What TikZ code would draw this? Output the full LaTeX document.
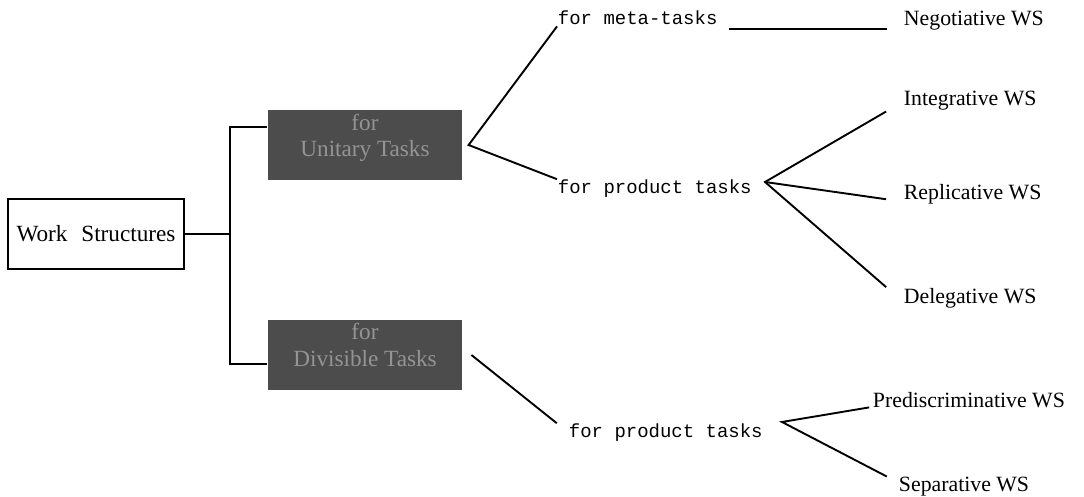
\documentclass[tikz,border=0pt]{standalone}
\usepackage{fontspec}
\setmainfont{Liberation Serif}
\setmonofont{Liberation Mono}
\begin{document}
\begin{tikzpicture}[x=0.025cm,y=-0.025cm,line width=1.35pt,
	ws/.style={font=\fontsize{15.5}{18}\selectfont,inner sep=0pt,anchor=west},
	fr/.style={font=\ttfamily\fontsize{13.5}{16}\selectfont,inner sep=0pt,anchor=west},
	dark/.style={fill=black!70,minimum width=4.85cm,minimum height=1.75cm,inner sep=0pt},
	darktext/.style={text=black!42,align=center,font=\fontsize{16.5}{19}\selectfont,inner sep=0pt}]
	\useasboundingbox (0,0) rectangle (1084,497);
	\node[draw,line width=0.8pt,minimum width=4.4cm,minimum height=1.75cm,font=\fontsize{16.5}{19}\selectfont] (ws) at (96,234){Work\hspace{0.6em}Structures};
	\node[dark] (ut) at (365,145){};
	\node[darktext] (utt) at ([yshift=5pt]ut.center){for\\Unitary Tasks};
	\node[dark] (dt) at (365,355){};
	\node[darktext] (dtt) at ([yshift=7pt]dt.center){for\\Divisible Tasks};
	\coordinate (jt) at (230,127);
	\coordinate (jb) at (230,364);
	\draw (ws.east) -- (ws.east -| jt);
	\draw (ut.west |- jt) -- (jt) -- (jb) -- (dt.west |- jb);
	\node[fr] (meta) at (557,18){for meta-tasks};
	\node[fr] (pu) at (557,189){for product tasks};
	\node[fr] (pl) at (568,433){for product tasks};
	\node[ws] (neg) at (903,21){Negotiative WS};
	\node[ws] (int) at (903,101){Integrative WS};
	\node[ws] (rep) at (903,194){Replicative WS};
	\node[ws] (del) at (903,298){Delegative WS};
	\node[ws] (pre) at (872,400){Prediscriminative WS};
	\node[ws] (sep) at (898,487){Separative WS};
	\coordinate (v1) at ([xshift=4pt]ut.east);
	\coordinate (v2) at (765,182);
	\coordinate (v3) at (782,422);
	\coordinate (u1) at (729,29);
	\coordinate (u2) at (887,29);
	\draw ([yshift=-6pt]meta.west) -- (v1) -- (pu.north west);
	\draw (u1) -- (u2);
	\draw ([xshift=-12pt]int.south west) -- (v2) -- ([xshift=-12pt]del.north west);
	\draw (v2) -- ([xshift=-12pt]rep.base west);
	\draw ([xshift=6pt]dt.east) -- ([xshift=-8pt]pl.north west);
	\draw ([xshift=-2pt]pre.base west) -- (v3) -- ([xshift=-8pt]sep.north west);
\end{tikzpicture}
\end{document}
